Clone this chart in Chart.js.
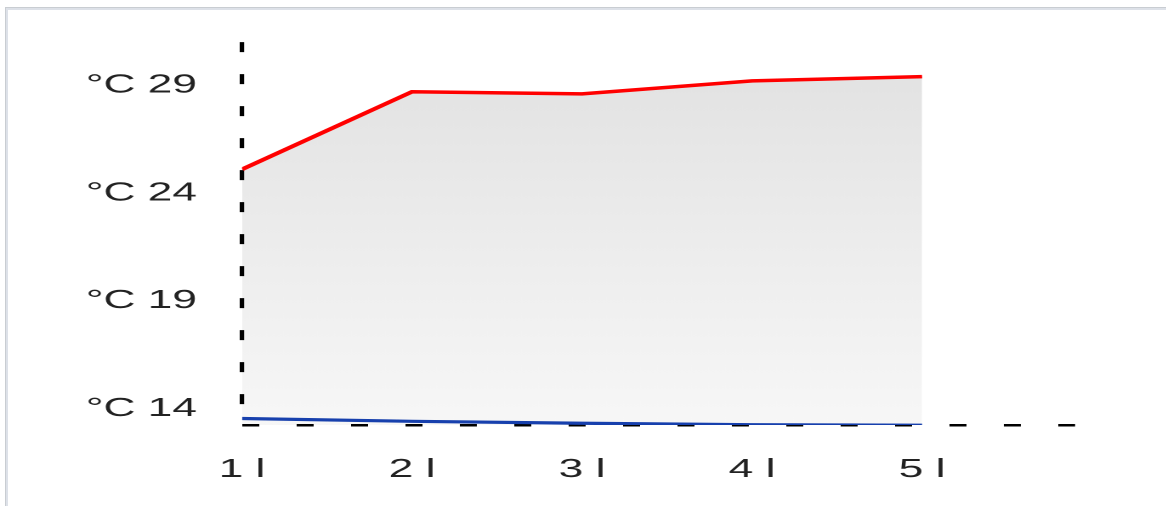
<!DOCTYPE html>
<html>
<head>
<meta charset="utf-8">
<script src="https://cdn.jsdelivr.net/npm/chart.js@4"></script>
<style>
  html, body { margin: 0; padding: 0; background: #fff; overflow: hidden; }
  body { width: 1166px; height: 506px; position: relative; }
  .frame {
    position: absolute; left: 6px; top: 8px; width: 1300px; height: 600px;
    border-top: 2px solid #dde1e8; border-left: 2px solid #dde1e8;
    box-shadow: -1px -1px 0 #c9cdd2;
  }
  .stretch {
    position: absolute; left: 0; top: 0; width: 686px; height: 506px;
    transform: scaleX(1.7); transform-origin: 0 0;
  }
</style>
</head>
<body>
<div class="frame"></div>
<div class="stretch"><canvas id="tempChart"></canvas></div>
<script>
const days = [1, 2, 3, 4, 5];
const dayLabels = ["1 l", "2 l", "3 l", "4 l", "5 l"];
const maxTemps = [25.1, 28.7, 28.6, 29.2, 29.4];
const minTemps = [13.55, 13.42, 13.33, 13.26, 13.24];
const yMin = 13.25;
const yMax = 31;
const yTicks = [14, 19, 24, 29];
const yTickLabels = ["°C 14", "°C 19", "°C 24", "°C 29"];

const font = { family: "'Liberation Sans', Arial, sans-serif", size: 26 };

function fillGradient(context) {
  const area = context.chart.chartArea;
  if (!area) return "#ebebeb";
  const g = context.chart.ctx.createLinearGradient(0, area.top, 0, area.bottom);
  g.addColorStop(0, "#e1e1e1");
  g.addColorStop(1, "#f7f7f7");
  return g;
}

// only the grid line sitting on the axis itself is drawn (dashed)
const axisLineOnly = (minValue, width) => (c) => (c.tick && c.tick.value === minValue ? width : 0);

const ctx = document.getElementById("tempChart").getContext("2d");
new Chart(ctx, {
  type: "line",
  data: {
    datasets: [
      {
        label: "max",
        data: days.map((d, i) => ({ x: d, y: maxTemps[i] })),
        borderColor: "#ff0000",
        borderWidth: 3.5,
        backgroundColor: fillGradient,
        fill: "start",
        pointRadius: 0,
        tension: 0,
        order: 1,
      },
      {
        label: "min",
        data: days.map((d, i) => ({ x: d, y: minTemps[i] })),
        borderColor: "#1740ad",
        borderWidth: 3.2,
        fill: false,
        pointRadius: 0,
        tension: 0,
        order: 0,
      },
    ],
  },
  options: {
    responsive: true,
    maintainAspectRatio: false,
    animation: false,
    devicePixelRatio: 2,
    layout: { padding: { top: 42, right: 53.6, bottom: 0, left: 0 } },
    plugins: {
      legend: { display: false },
      tooltip: { enabled: false },
      filler: { drawTime: "beforeDraw" },
    },
    scales: {
      x: {
        type: "linear",
        min: 1,
        max: 5.9,
        afterFit: (scale) => { scale.height = 81; },
        afterBuildTicks: (scale) => { scale.ticks = days.map((v) => ({ value: v })); },
        grid: { display: true, drawTicks: false, color: "#000", lineWidth: axisLineOnly(days[0], 2.6) },
        border: { display: false, dash: [10, 22] },
        ticks: {
          padding: 29,
          color: "#222",
          font: font,
          maxRotation: 0,
          callback: (value) => dayLabels[days.indexOf(value)] || "",
        },
      },
      y: {
        min: yMin,
        max: yMax,
        afterFit: (scale) => { scale.width = 142.35; },
        afterBuildTicks: (scale) => {
          scale.ticks = [yMin].concat(yTicks).map((v) => ({ value: v }));
        },
        grid: { display: true, drawTicks: false, color: "#000", lineWidth: axisLineOnly(yMin, 2.5) },
        border: { display: false, dash: [10, 22] },
        ticks: {
          padding: 26.5,
          color: "#222",
          font: font,
          callback: (value) => yTickLabels[yTicks.indexOf(value)] || "",
        },
      },
    },
  },
});
</script>
</body>
</html>
